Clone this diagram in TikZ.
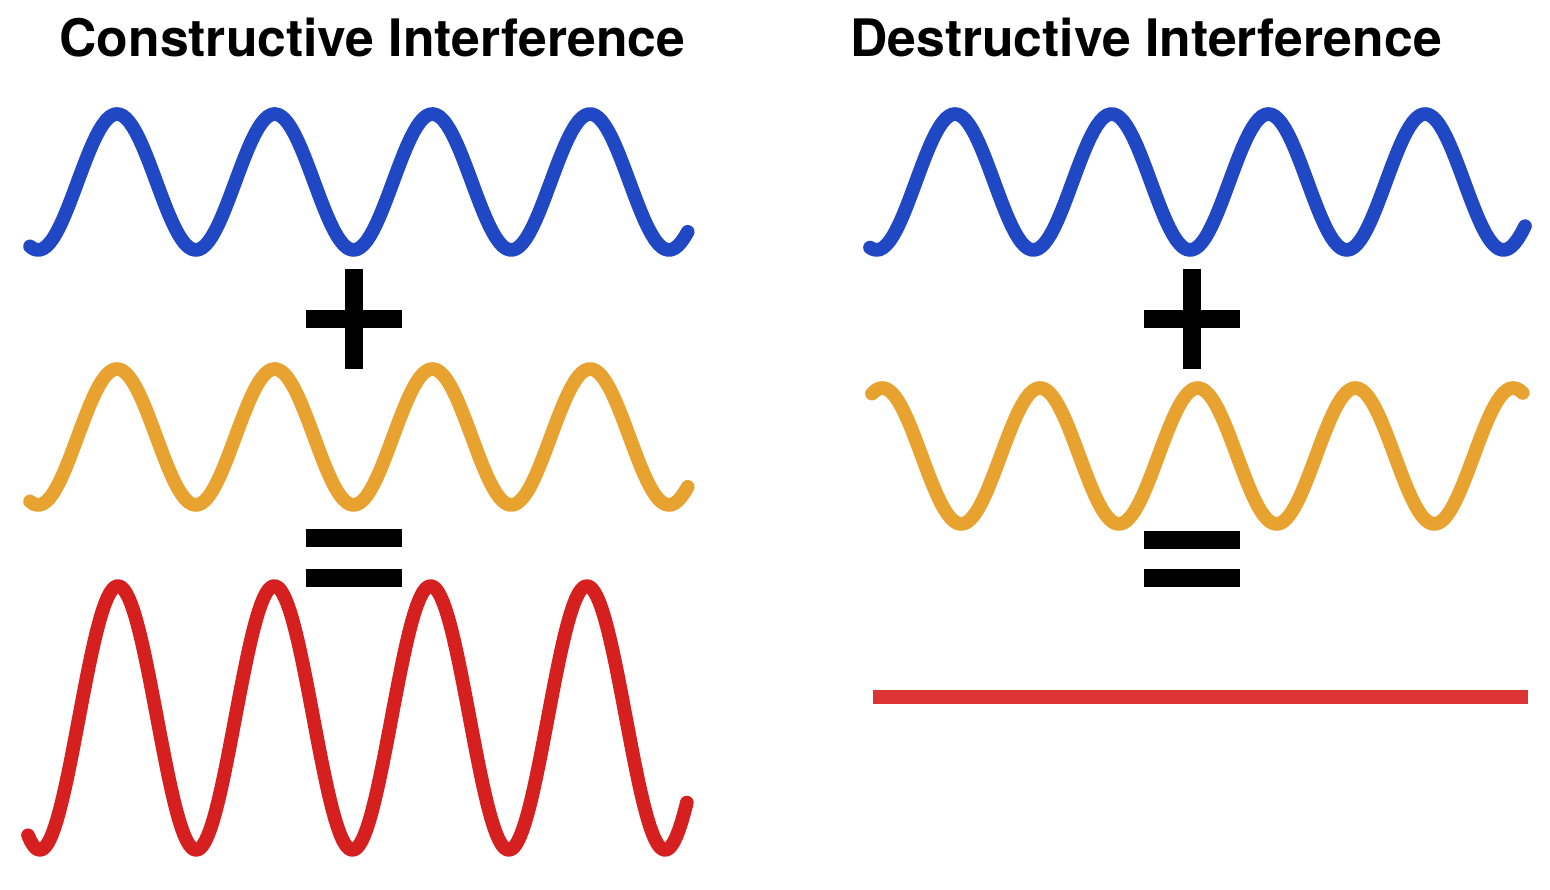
\documentclass[tikz,border=0pt]{standalone}
\usepackage{fontspec}
\setmainfont{TeX Gyre Heros}
\usetikzlibrary{calc}

\definecolor{wblue}{RGB}{33,72,196}
\definecolor{worange}{RGB}{232,162,48}
\definecolor{wred}{RGB}{214,32,32}
\definecolor{lred}{RGB}{220,52,52}

\begin{document}
\begin{tikzpicture}[
  wave/.style={line width=3.9pt, line cap=round, line join=round},
  sign/.style={line width=5.2pt, black},
  title/.style={font=\bfseries\fontsize{14.7}{18}\selectfont, anchor=base, inner sep=0pt}]
\useasboundingbox (0,0) rectangle (15.5,8.9);

\node[title] (tC) at (3.725,8.33) {Constructive Interference};
\node[title] (tD) at (11.46,8.33) {Destructive Interference};

\coordinate (plusL) at (3.54,5.71);
\coordinate (eqL) at (3.54,3.32);
\coordinate (plusR) at (11.92,5.71);
\coordinate (eqR) at (11.92,3.31);

\draw[wave,wblue] plot[domain=0.30:6.88,samples=200] (\x,{7.08+0.68*cos(360*(\x-1.17)/1.577)});
\draw[wave,worange] plot[domain=0.30:6.88,samples=200] (\x,{4.53+0.68*cos(360*(\x-1.17)/1.577)});
\draw[wave,wred] plot[domain=0.28:6.87,samples=250] (\x,{1.72+1.32*cos(360*(\x-1.18)/1.563)});

\draw[wave,wblue] plot[domain=8.70:15.25,samples=200] (\x,{7.08+0.68*cos(360*(\x-9.55)/1.567)});
\draw[wave,worange] plot[domain=8.72:15.23,samples=200] (\x,{4.34+0.68*cos(360*(\x-10.40)/1.577)});
\draw[lred,line width=4pt] (8.73,1.93) coordinate (flatA) -- (15.28,1.93) coordinate (flatB);

\draw[sign] ($(plusL)+(-0.48,0)$) -- ($(plusL)+(0.48,0)$);
\draw[sign] ($(plusL)+(0,-0.50)$) -- ($(plusL)+(0,0.50)$);
\draw[sign] ($(eqL)+(-0.48,0.20)$) -- ($(eqL)+(0.48,0.20)$);
\draw[sign] ($(eqL)+(-0.48,-0.20)$) -- ($(eqL)+(0.48,-0.20)$);

\draw[sign] ($(plusR)+(-0.48,0)$) -- ($(plusR)+(0.48,0)$);
\draw[sign] ($(plusR)+(0,-0.50)$) -- ($(plusR)+(0,0.50)$);
\draw[sign] ($(eqR)+(-0.48,0.19)$) -- ($(eqR)+(0.48,0.19)$);
\draw[sign] ($(eqR)+(-0.48,-0.19)$) -- ($(eqR)+(0.48,-0.19)$);
\end{tikzpicture}
\end{document}
